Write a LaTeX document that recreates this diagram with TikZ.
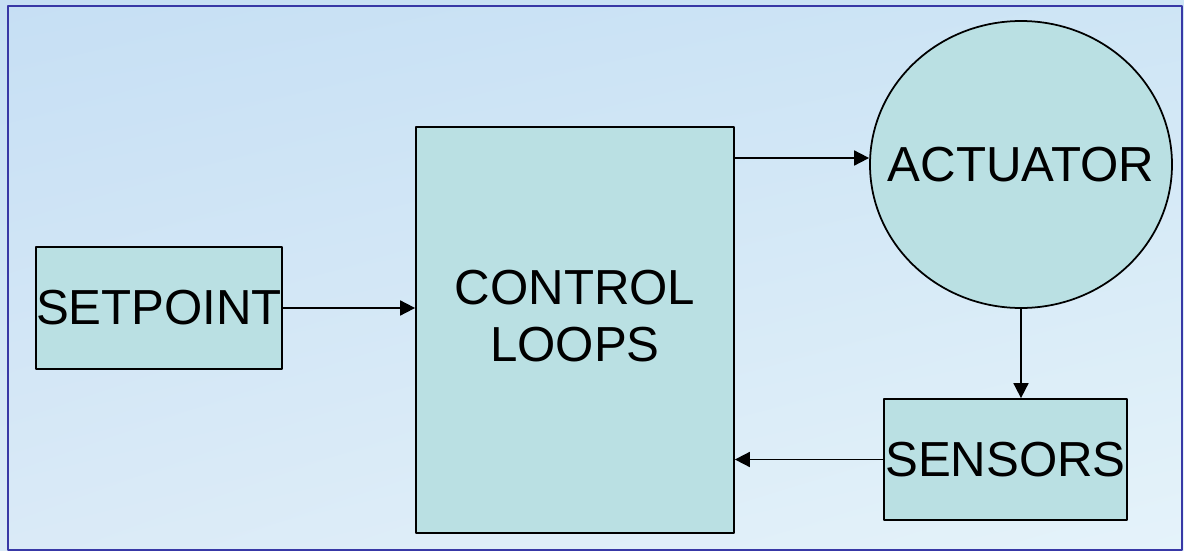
\documentclass[tikz,border=0pt]{standalone}
\usepackage{fontspec}
\setmainfont{Liberation Sans}
\usetikzlibrary{shapes.geometric,arrows.meta,shadings}
\definecolor{boxfill}{RGB}{186,224,227}
\definecolor{frameblue}{RGB}{56,56,166}
\definecolor{bgtl}{RGB}{198,223,244}
\definecolor{bgtr}{RGB}{206,229,245}
\definecolor{bgbl}{RGB}{218,234,247}
\definecolor{bgbr}{RGB}{229,243,250}
\begin{document}
\begin{tikzpicture}[x=0.02cm,y=-0.02cm,font=\fontsize{28}{32.4}\selectfont,line join=round,
  >={Triangle[length=0.3cm,width=0.3cm]},
  block/.style={draw,line width=1pt,fill=boxfill,inner sep=0pt},
  arr/.style={->,line width=1pt}]
  \def\pxl{0.02cm}
  \useasboundingbox (0,0) rectangle (1184,551);
  % background and frame
  \shade[upper left=bgtl,upper right=bgtr,lower left=bgbl,lower right=bgbr] (0,0) rectangle (1184,551);
  \draw[frameblue,line width=1.2pt] (8,6) rectangle (1182,550);
  % blocks
  \node[block,minimum width=242*\pxl,minimum height=122*\pxl] (setpoint) at (159,308) {SETPOINT};
  \node[block,minimum width=318*\pxl,minimum height=406*\pxl,
    label={[anchor=center,align=center,yshift=0.27cm]center:CONTROL\\LOOPS}] (loops) at (575,330) {};
  \node[block,ellipse,minimum width=302*\pxl,minimum height=287*\pxl,
    label={[anchor=center]center:ACTUATOR}] (actuator) at (1021,164.5) {};
  \node[block,minimum width=243*\pxl,minimum height=121*\pxl] (sensors) at (1005.5,459.5) {SENSORS};
  % connectors
  \coordinate (outlevel) at (0,158);
  \draw[arr] (setpoint.east) -- (setpoint.east -| loops.west);
  \draw[arr] (loops.east |- outlevel) -- (actuator.west |- outlevel);
  \draw[arr] (actuator.south) -- (actuator.south |- sensors.north);
  \draw[arr] (sensors.west) -- (sensors.west -| loops.east);
\end{tikzpicture}
\end{document}
